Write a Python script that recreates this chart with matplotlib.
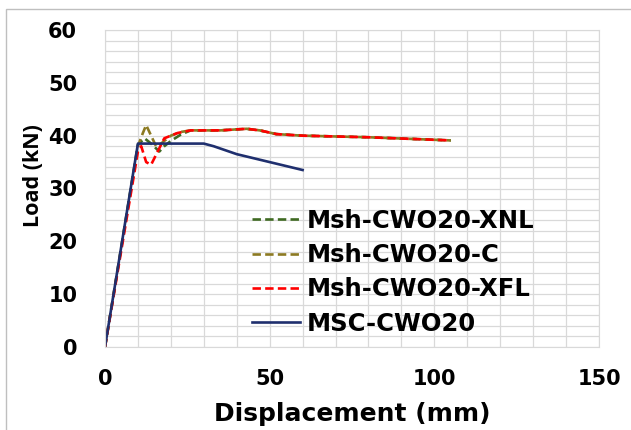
import matplotlib
matplotlib.use('Agg')
import matplotlib.pyplot as plt
from matplotlib.patches import Rectangle
from matplotlib.ticker import MultipleLocator

# ── Data ──────────────────────────────────────────────────────
xnl_x = [0, 10, 12, 14, 16.5, 18, 20, 23, 26, 35, 43, 47, 52, 60, 80, 105]
xnl_y = [0, 38.3, 39.5, 38.5, 37.0, 38.0, 39.0, 40.2, 41.0, 41.0, 41.3, 41.0, 40.3, 40.0, 39.7, 39.1]

c_x = [0, 10, 11.5, 12.5, 14, 15.5, 17, 20, 23, 26, 35, 43, 47, 52, 60, 80, 105]
c_y = [0, 38.0, 40.5, 42.0, 40.0, 38.0, 38.5, 40.0, 40.7, 41.0, 41.0, 41.3, 41.0, 40.3, 40.0, 39.7, 39.1]

xfl_x = [0, 10, 11, 12.5, 14, 16, 18, 22, 26, 35, 43, 47, 52, 60, 80, 105]
xfl_y = [0, 37.0, 38.0, 35.0, 34.5, 37.0, 39.5, 40.5, 41.0, 41.0, 41.3, 41.0, 40.3, 40.0, 39.7, 39.1]

msc_x = [0, 10, 30, 33, 40, 50, 60]
msc_y = [0, 38.5, 38.5, 38.0, 36.5, 35.0, 33.5]

labels = ['Msh-CWO20-XNL', 'Msh-CWO20-C', 'Msh-CWO20-XFL', 'MSC-CWO20']
colors = ['#3F6A22', '#8C7A22', '#FF0000', '#1F2F6E']

plt.rcParams['font.family'] = ['DejaVu Sans']
plt.rcParams['font.weight'] = 'bold'

fig = plt.figure(figsize=(6.31, 4.30), dpi=100)
fig.patch.set_facecolor('white')
ax = fig.add_axes([105 / 631, 1 - 347 / 430, (599 - 105) / 631, (347 - 30) / 430])

# dashed series, Excel-style short dashes
dash = (0, (3.2, 1.6))
ax.plot(xnl_x, xnl_y, color=colors[0], lw=1.9, ls=dash, label=labels[0])
ax.plot(c_x, c_y, color=colors[1], lw=1.9, ls=dash, label=labels[1])
ax.plot(xfl_x, xfl_y, color=colors[2], lw=1.9, ls=dash, label=labels[2])
ax.plot(msc_x, msc_y, color=colors[3], lw=1.9, label=labels[3])

ax.set_xlim(0, 150)
ax.set_ylim(0, 60)
ax.xaxis.set_major_locator(MultipleLocator(50))
ax.xaxis.set_minor_locator(MultipleLocator(10))
ax.yaxis.set_major_locator(MultipleLocator(10))
ax.yaxis.set_minor_locator(MultipleLocator(2))
ax.grid(which='both', color='#D9D9D9', lw=0.9)
ax.set_axisbelow(True)
ax.tick_params(which='both', length=0, labelsize=15, colors='black')
ax.tick_params(axis='y', pad=20)
ax.tick_params(axis='x', pad=16)
for sp in ax.spines.values():
    sp.set_color('#D9D9D9')

ax.set_xlabel('Displacement (mm)', fontsize=18, fontweight='bold')
ax.xaxis.set_label_coords(0.5, -0.172)
ax.set_ylabel('Load (kN)', fontsize=15.5, fontweight='bold', family='Open Sans')
ax.yaxis.set_label_coords(-0.124, 0.54)

leg = ax.legend(loc='center left', bbox_to_anchor=(0.287, 0.236), frameon=False,
                fontsize=17.5, handlelength=2.0, handletextpad=0.25,
                labelspacing=0.42, borderpad=0.2, borderaxespad=0)

# outer frame of the exported chart
fig.patches.append(Rectangle((6 / 631, -0.1), 1.2, 1 - 9 / 430 + 0.1,
                             transform=fig.transFigure, fill=False,
                             edgecolor='#BFBFBF', lw=1.0))

plt.savefig('out.png', dpi=100, facecolor=fig.get_facecolor())
